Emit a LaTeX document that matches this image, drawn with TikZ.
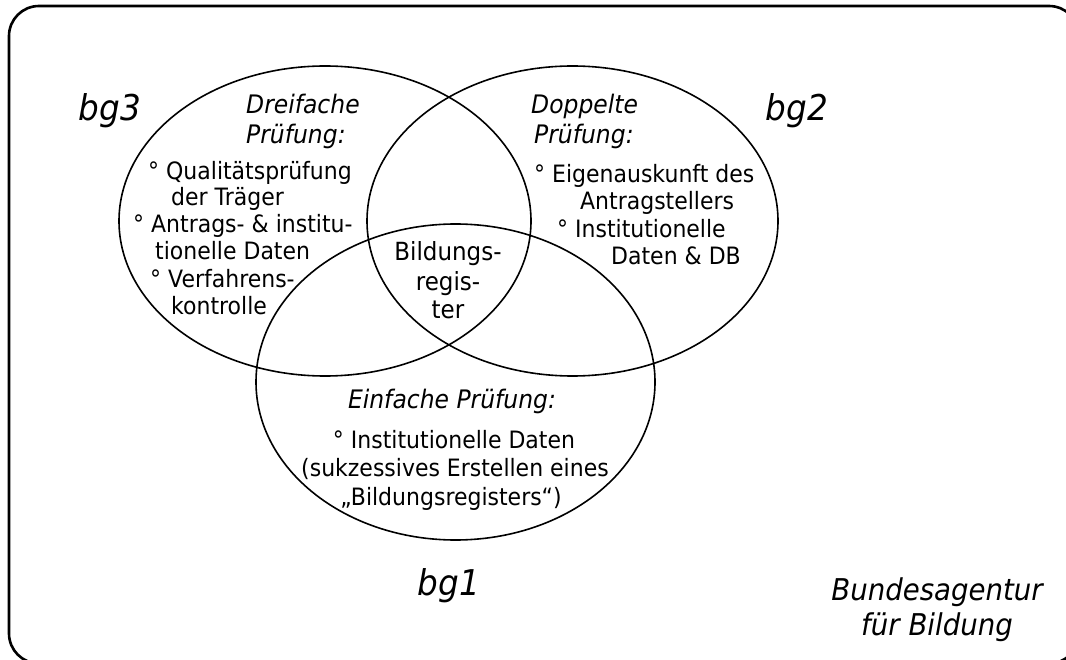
\documentclass[tikz,border=0pt]{standalone}
\usepackage{fontspec}
\setmainfont{DejaVu Sans}[FakeStretch=0.92]
\begin{document}
\begin{tikzpicture}[x=1pt,y=-1pt,
  body/.style={inner sep=0pt, font=\fontsize{23.9}{29}\selectfont},
  head/.style={inner sep=0pt, font=\fontsize{25.5}{30}\selectfont\itshape},
  mid/.style={inner sep=0pt, font=\fontsize{25}{30}\selectfont},
  big/.style={inner sep=0pt, font=\fontsize{35.5}{40}\selectfont\itshape},
  agency/.style={inner sep=0pt, font=\fontsize{30}{35}\selectfont\itshape},
  ring/.style={draw=black, line width=1.6pt},
  frame/.style={draw=black, line width=2.6pt, rounded corners=30pt}]
\useasboundingbox (0,0) rectangle (1066,660);
\draw[frame] (9,6) rectangle (1079,663.5);

\coordinate (c3) at (325,221);
\coordinate (c2) at (572.5,221);
\coordinate (c1) at (455.5,382);
\draw[ring] (c3) ellipse [x radius=206pt, y radius=155pt];
\draw[ring] (c2) ellipse [x radius=205.5pt, y radius=155pt];
\draw[ring] (c1) ellipse [x radius=199.5pt, y radius=158pt];

% left circle
\node[head, anchor=base west] (l1) at (246,113.5) {Dreifache};
\node[head, anchor=base west] (l2) at (246,143.5) {Prüfung:};
\node[body, anchor=base west] (l3) at (148,180) {° Qualitätsprüfung};
\node[body, anchor=base west] (l4) at (171,206) {der Träger};
\node[body, anchor=base west] (l5) at (133,233) {° Antrags- \& institu-};
\node[body, anchor=base west] (l6) at (155,260) {tionelle Daten};
\node[body, anchor=base west] (l7) at (150,288) {° Verfahrens-};
\node[body, anchor=base west] (l8) at (171,315) {kontrolle};

% right circle
\node[head, anchor=base west] (r1) at (531,113.5) {Doppelte};
\node[head, anchor=base west] (r2) at (534,143.5) {Prüfung:};
\node[body, anchor=base west] (r3) at (534,183) {° Eigenauskunft des};
\node[body, anchor=base west] (r4) at (580,210) {Antragstellers};
\node[body, anchor=base west] (r5) at (557,238) {° Institutionelle};
\node[body, anchor=base west] (r6) at (611,265) {Daten \& DB};

% centre
\node[mid, anchor=base] (m1) at (448,261) {Bildungs-};
\node[mid, anchor=base] (m2) at (448,291) {regis-};
\node[mid, anchor=base] (m3) at (448,319) {ter};

% bottom circle
\node[head, anchor=base] (b1) at (452,408.5) {Einfache Prüfung:};
\node[body, anchor=base] (b2) at (454,448) {° Institutionelle Daten};
\node[body, anchor=base] (b3) at (455,476) {(sukzessives Erstellen eines};
\node[body, anchor=base] (b4) at (451,505) {„Bildungsregisters“)};

% labels
\node[big, anchor=base] (bg3) at (110,121) {bg3};
\node[big, anchor=base] (bg2) at (797,121) {bg2};
\node[big, anchor=base] (bg1) at (449,595) {bg1};
\node[agency, anchor=base] (ag1) at (937,600) {Bundesagentur};
\node[agency, anchor=base] (ag2) at (937,635) {für Bildung};
\end{tikzpicture}
\end{document}
